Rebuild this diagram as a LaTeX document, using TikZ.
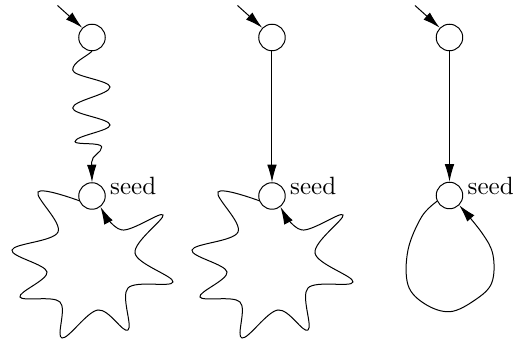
\documentclass[tikz,border=0pt]{standalone}
\usetikzlibrary{arrows.meta}
\begin{document}
\begin{tikzpicture}[x=0.4pt,y=-0.4pt,
  state/.style={draw,circle,inner sep=0pt,minimum size=10.6pt,line width=0.4pt},
  lbl/.style={anchor=base west,inner sep=0pt,xshift=1.6pt,yshift=0.4pt},
  arr/.style={line width=0.4pt,-{Latex[length=7pt,width=3.8pt]}},
  curve/.style={arr,smooth,tension=0.6}]
\useasboundingbox (0,0) rectangle (523,345);

% states
\node[state] (t1) at (92,37.5) {};
\node[state] (s1) at (92,196) {};
\node[state] (t2) at (272,37.5) {};
\node[state] (s2) at (272,196) {};
\node[state] (t3) at (449.5,37.5) {};
\node[state] (s3) at (449.5,195.5) {};

\node[lbl] (l1) at (s1.east) {seed};
\node[lbl] (l2) at (s2.east) {seed};
\node[lbl] (l3) at (s3.east) {seed};

% initial arrows
\coordinate (i1) at (57.5,5.5);
\coordinate (i2) at (237.5,5.5);
\coordinate (i3) at (415,5.5);
\draw[arr] (i1) -- (t1.135);
\draw[arr] (i2) -- (t2.135);
\draw[arr] (i3) -- (t3.135);

% wavy path
\draw[arr] (t1.south) .. controls (86,57) and (72.7,62) .. (72.7,70)
  .. controls (72.7,76.5) and (110,80.5) .. (110,87)
  .. controls (110,94.5) and (72.7,100.5) .. (72.7,108)
  .. controls (72.7,114.5) and (110,118.5) .. (110,125)
  .. controls (110,131) and (75,135.7) .. (75,141.7)
  .. controls (75,145) and (101.7,142) .. (101.7,147)
  .. controls (101.7,153) and (91.7,155) .. (91.7,162)
  -- (s1.north);

% straight paths
\draw[arr] (t2.south) -- (s2.north);
\draw[arr] (t3.south) -- (s3.north);

% star-shaped loops
\begin{scope}[shift={(s1.center)}]
\draw[curve] plot coordinates {(s1.200) (-54,-4) (-34,36) (-80,54) (-45,76)
  (-72,101) (-32,106) (-30,142) (6,114) (36,134) (36,92) (81,86) (43,57)
  (71,19) (30,34) (s1.-52)};
\end{scope}
\begin{scope}[shift={(s2.center)}]
\draw[curve] plot coordinates {(s2.200) (-54,-4) (-34,36) (-80,54) (-45,76)
  (-72,101) (-32,106) (-30,142) (6,114) (36,134) (36,92) (81,86) (43,57)
  (71,19) (30,34) (s2.-52)};
\end{scope}

% smooth loop
\begin{scope}[shift={(s3.center)}]
\draw[curve] plot coordinates {(s3.205) (-27.8,21.2) (-41.5,54.5) (-41.5,89.5)
  (-24.5,108.5) (0.5,116.2) (25.5,104.5) (42.2,87.5) (43.5,59.5) (32.5,37.5)
  (s3.-45)};
\end{scope}
\end{tikzpicture}
\end{document}
